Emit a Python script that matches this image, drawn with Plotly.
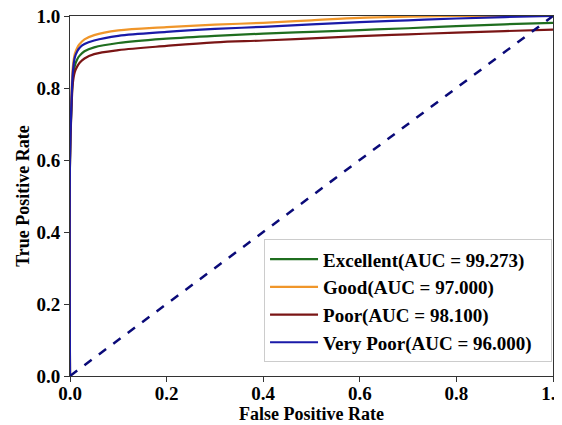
import plotly.graph_objects as go

fpr = [0, 0, 0.003, 0.006, 0.01, 0.015, 0.02, 0.03, 0.05, 0.1, 0.2, 0.3, 0.4, 0.5, 0.6, 0.7, 0.8, 0.9, 1.0]
tpr_excellent = [0, 0.6, 0.75, 0.83, 0.862, 0.88, 0.89, 0.902, 0.913, 0.925, 0.937, 0.945, 0.951, 0.956, 0.961, 0.966, 0.972, 0.977, 0.981]
tpr_good = [0, 0.6, 0.78, 0.86, 0.895, 0.912, 0.922, 0.935, 0.947, 0.96, 0.969, 0.976, 0.981, 0.988, 0.995, 0.998, 1.0, 1.0, 1.0]
tpr_poor = [0, 0.6, 0.74, 0.815, 0.845, 0.86, 0.87, 0.882, 0.894, 0.905, 0.917, 0.927, 0.932, 0.938, 0.944, 0.949, 0.954, 0.958, 0.962]
tpr_very_poor = [0, 0.6, 0.76, 0.845, 0.885, 0.902, 0.912, 0.922, 0.932, 0.945, 0.956, 0.964, 0.970, 0.977, 0.983, 0.988, 0.993, 0.997, 1.0]
diag = [0, 1]
tick_vals = [0, 0.2, 0.4, 0.6, 0.8, 1.0]
tick_labels = ["0.0", "0.2", "0.4", "0.6", "0.8", "1.0"]

names = ["Excellent(AUC = 99.273)", "Good(AUC = 97.000)", "Poor(AUC = 98.100)", "Very Poor(AUC = 96.000)"]
series = [tpr_excellent, tpr_good, tpr_poor, tpr_very_poor]
colors = ["#1f6e1f", "#f0962a", "#7a1515", "#1a1aa8"]

fig = go.Figure()
for name, ys, c in zip(names, series, colors):
    fig.add_trace(go.Scatter(x=fpr, y=ys, mode="lines", name="<b>%s</b>&nbsp;&nbsp;&nbsp;" % name,
                             line=dict(color=c, width=2.2), line_shape="spline"))
fig.add_trace(go.Scatter(x=diag, y=diag, mode="lines", showlegend=False,
                         line=dict(color="#0a0a78", width=2.5, dash="dash")))

font = "Liberation Serif"
axis_common = dict(range=[0, 1], showgrid=False, zeroline=False, showline=True,
                   linecolor="#333", linewidth=1, mirror=True, ticks="outside",
                   ticklen=5, tickcolor="#333", tickvals=tick_vals,
                   ticktext=["<b>%s</b>" % t for t in tick_labels], automargin=False,
                   ticklabeloverflow="allow",
                   tickfont=dict(family=font, size=19, color="black"))
fig.update_xaxes(**axis_common, ticklabelstandoff=-5,
                 title=dict(text="<b>False Positive Rate</b>", standoff=0,
                            font=dict(family=font, size=18, color="black")))
fig.update_yaxes(**axis_common,
                 title=dict(text="<b>True Positive Rate</b>", standoff=2,
                            font=dict(family=font, size=18, color="black")))
# the page adds an 8px body margin, so the figure is shifted by 8px in both directions
fig.update_layout(
    width=554, height=417,
    margin=dict(l=62, r=9, t=8, b=49),
    plot_bgcolor="white", paper_bgcolor="white",
    font=dict(family=font, size=16, color="black"),
    legend=dict(x=0.998, y=0.038, xanchor="right", yanchor="bottom",
                bgcolor="white", bordercolor="#cccccc", borderwidth=1,
                font=dict(family=font, size=19, color="black"),
                tracegroupgap=0, itemwidth=48),
    showlegend=True,
)
fig.write_html("out.html")
